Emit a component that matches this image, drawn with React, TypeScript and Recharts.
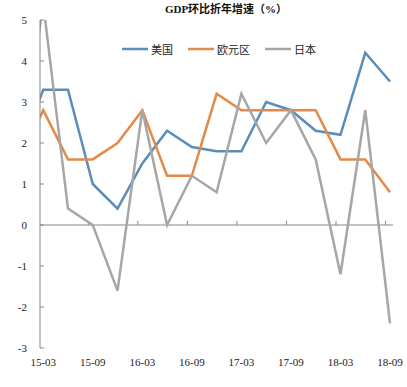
import React from 'react';
import { LineChart, Line, XAxis, YAxis, ReferenceLine, Legend } from 'recharts';

const quarters = ['14-12', '15-03', '15-06', '15-09', '15-12', '16-03', '16-06', '16-09', '16-12', '17-03', '17-06', '17-09', '17-12', '18-03', '18-06', '18-09'];
const usGrowth = [1.7, 3.3, 3.3, 1.0, 0.4, 1.5, 2.3, 1.9, 1.8, 1.8, 3.0, 2.8, 2.3, 2.2, 4.2, 3.5];
const euroGrowth = [1.5, 2.8, 1.6, 1.6, 2.0, 2.8, 1.2, 1.2, 3.2, 2.8, 2.8, 2.8, 2.8, 1.6, 1.6, 0.8];
const japanGrowth = [1.2, 5.4, 0.4, 0.0, -1.6, 2.8, 0.0, 1.2, 0.8, 3.2, 2.0, 2.8, 1.6, -1.2, 2.8, -2.4];

const seriesNames = ['美国', '欧元区', '日本'];
const seriesColors = ['#5A8DBA', '#E38A48', '#A6A6A6'];
const xTickLabels = ['15-03', '15-09', '16-03', '16-09', '17-03', '17-09', '18-03', '18-09'];
const yTicks = [-3, -2, -1, 0, 1, 2, 3, 4, 5];
const title = 'GDP环比折年增速（%）';

const data = quarters.map((q, i) => ({
  x: i - 1,
  q,
  us: usGrowth[i],
  euro: euroGrowth[i],
  japan: japanGrowth[i],
}));
const xTicks = xTickLabels.map((l) => quarters.indexOf(l) - 1);
const X_MIN = -0.13;
const X_MAX = 14.12;
const AXIS_COLOR = '#868686';
const TICK_FONT = '"Liberation Serif", "Times New Roman", serif';
const CJK_FONT = '"Noto Sans CJK SC", sans-serif';

const renderLegend = (props: any) => {
  const payload = [...(props.payload || [])].sort(
    (a: any, b: any) => seriesNames.indexOf(a.value) - seriesNames.indexOf(b.value)
  );
  return (
    <div style={{ display: 'flex', alignItems: 'center', paddingLeft: 122, height: 18 }}>
      {payload.map((p: any) => (
        <div key={p.value} style={{ display: 'flex', alignItems: 'center', marginRight: 15 }}>
          <svg width={26} height={4} style={{ display: 'block' }}>
            <line x1={0} y1={2} x2={26} y2={2} stroke={p.color} strokeWidth={2.5} />
          </svg>
          <span style={{ marginLeft: 3, fontSize: 11, fontFamily: CJK_FONT, color: '#222', lineHeight: '18px' }}>
            {p.value}
          </span>
        </div>
      ))}
    </div>
  );
};

export default function App() {
  return (
    <div style={{ position: 'absolute', left: 0, top: 0, width: 407, height: 387, background: '#fff' }}>
      <div
        style={{
          position: 'absolute',
          left: 0,
          top: 1,
          width: 452,
          textAlign: 'center',
          fontSize: 11,
          fontWeight: 'bold',
          fontFamily: '"Liberation Serif", "Noto Sans CJK SC", serif',
          color: '#111',
          lineHeight: '16px',
          zIndex: 2,
        }}
      >
        {title}
      </div>
      <LineChart width={407} height={387} data={data} margin={{ top: 20, right: 14, bottom: 9, left: 10 }}>
        <XAxis
          dataKey="x"
          type="number"
          domain={[X_MIN, X_MAX]}
          allowDataOverflow
          ticks={xTicks}
          tickFormatter={(v: number) => quarters[v + 1]}
          axisLine={false}
          tickLine={false}
          tickMargin={4}
          height={30}
          interval={0}
          tick={{ fontSize: 11, fontFamily: TICK_FONT, fill: '#222' }}
        />
        <YAxis
          type="number"
          domain={[-3, 5]}
          allowDataOverflow
          ticks={yTicks}
          width={30}
          interval={0}
          axisLine={{ stroke: AXIS_COLOR, strokeWidth: 1 }}
          tickLine={false}
          tickMargin={7}
          tick={{ fontSize: 11, fontFamily: TICK_FONT, fill: '#222' }}
        />
        <ReferenceLine y={0} stroke={AXIS_COLOR} strokeWidth={1} />
        {xTicks.slice(1).map((t) => (
          <ReferenceLine
            key={'xt' + t}
            segment={[
              { x: t - 0.18, y: 0 },
              { x: t - 0.18, y: 0.1 },
            ]}
            stroke={AXIS_COLOR}
            strokeWidth={1}
          />
        ))}
        {yTicks.map((v) => (
          <ReferenceLine
            key={'yt' + v}
            segment={[
              { x: X_MIN, y: v },
              { x: X_MIN + 0.16, y: v },
            ]}
            stroke={AXIS_COLOR}
            strokeWidth={1}
          />
        ))}
        <Legend
          verticalAlign="middle"
          align="center"
          layout="horizontal"
          content={renderLegend}
          wrapperStyle={{ top: 40, left: 0, width: 407 }}
        />
        <Line type="linear" dataKey="us" name={seriesNames[0]} stroke={seriesColors[0]} strokeWidth={2.5} dot={false} isAnimationActive={false} />
        <Line type="linear" dataKey="euro" name={seriesNames[1]} stroke={seriesColors[1]} strokeWidth={2.5} dot={false} isAnimationActive={false} />
        <Line type="linear" dataKey="japan" name={seriesNames[2]} stroke={seriesColors[2]} strokeWidth={2.5} dot={false} isAnimationActive={false} />
      </LineChart>
    </div>
  );
}
